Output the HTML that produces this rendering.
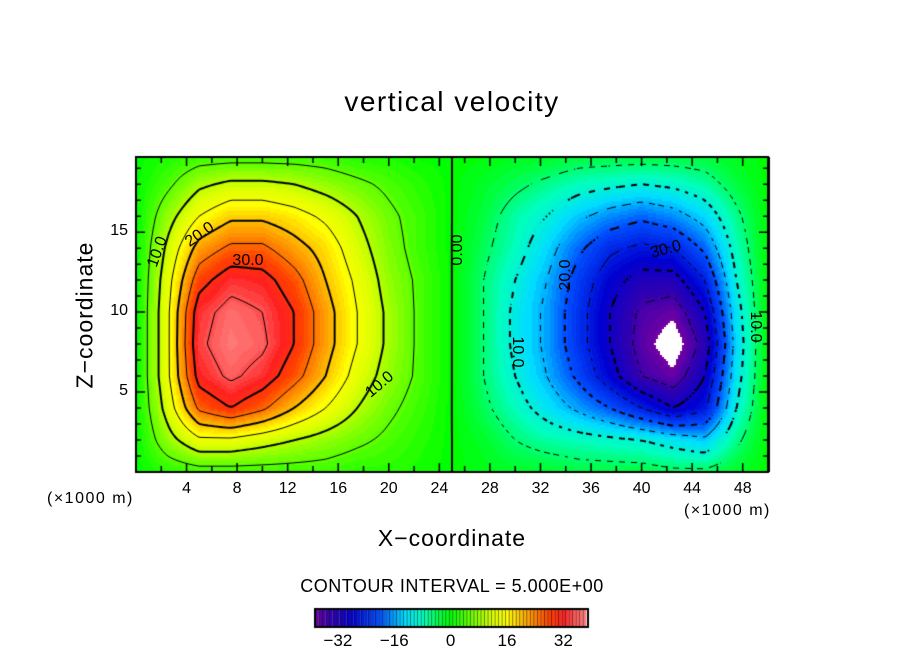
<!DOCTYPE html>
<html><head><meta charset="utf-8"><style>
html,body{margin:0;padding:0;background:#fff;width:904px;height:654px;overflow:hidden}
#root{position:relative;width:904px;height:654px;font-family:"Liberation Sans",sans-serif;color:#000}
.t{position:absolute;white-space:nowrap}
canvas{position:absolute;left:0;top:0}
</style></head><body>
<div id="root">
<canvas id="cv" width="904" height="654"></canvas>
<div class="t" style="left:0;width:904px;text-align:center;top:86px;font-size:28px;letter-spacing:1.5px">vertical velocity</div>
<div class="t" style="left:0;width:904px;text-align:center;top:525px;font-size:23px;letter-spacing:1px">X&minus;coordinate</div>
<div class="t" style="left:85px;top:315px;font-size:23px;letter-spacing:1px;transform:translate(-50%,-50%) rotate(-90deg)">Z&minus;coordinate</div>
<div class="t" style="left:47px;top:490px;font-size:16px;letter-spacing:1.5px">(×1000 m)</div>
<div class="t" style="left:684px;top:502px;font-size:16px;letter-spacing:1.5px">(×1000 m)</div>
<div class="t" style="left:0;width:904px;text-align:center;top:576px;font-size:18px;letter-spacing:0.5px">CONTOUR INTERVAL = 5.000E+00</div>
<div id="labels"></div>
</div>
<script>
const xCoords=[0,2.5,5,7.5,10,12.5,15,17.5,20,22.5,25,27.5,30,32.5,35,37.5,40,42.5,45,47.5,50];
const zCoords=[0,2,4,6,8,10,12,14,16,18,20];
const wRows=[
[0,2,3,3,3,3,3,2,2,1,0,-1,-2,-2,-3,-3,-3,-4,-4,-2,0],
[0,8,14,14,12,10,8,6,4,2,0,-2,-5,-7,-8,-9,-10,-12,-14,-6,0],
[0,12,26,30,26,20,15,10,6,3,0,-4,-8,-12,-16,-20,-25,-30,-26,-10,0],
[0,14,32,36,33,27,20,13,8,4,0,-5,-10,-15,-21,-28,-35,-38,-30,-12,0],
[0,14,34,38,36,30,22,15,9,4,0,-5,-11,-16,-23,-30,-37,-42,-33,-13,0],
[0,14,33,37,35,30,22,15,9,4,0,-5,-11,-16,-23,-30,-36,-38,-30,-12,0],
[0,13,28,33,32,27,20,14,8,4,0,-5,-10,-15,-22,-28,-32,-32,-25,-10,0],
[0,11,22,26,26,22,18,12,7,3,0,-4,-8,-13,-19,-24,-26,-25,-19,-8,0],
[0,8,15,19,19,17,14,10,6,3,0,-3,-7,-10,-14,-17,-19,-17,-13,-6,0],
[0,4,9,11,11,10,8,6,4,2,0,-2,-4,-6,-8,-9,-10,-9,-7,-3,0],
[0,1,2,2,2,2,2,1,1,0,0,0,-1,-1,-2,-2,-2,-2,-2,-1,0]];
const xTicks=[4,8,12,16,20,24,28,32,36,40,44,48];
const zTicks=[5,10,15];
const cbTicks=[-32,-16,0,16,32];
const levels=[-35,-30,-25,-20,-15,-10,-5,0,5,10,15,20,25,30,35];

const L=136,R=768,T=157,B=472,ZMAX=19.7;
const sx=x=>L+(x-0)/(50)*(R-L);
const sz=z=>B-(z/ZMAX)*(B-T);
const cv=document.getElementById('cv');const ctx=cv.getContext('2d');
function idx(arr,v){for(let i=0;i<arr.length-1;i++){if(v<=arr[i+1])return i;}return arr.length-2;}
function field(x,z){
  const i=idx(xCoords,x),j=idx(zCoords,z);
  const tx=(x-xCoords[i])/(xCoords[i+1]-xCoords[i]);
  const tz=(z-zCoords[j])/(zCoords[j+1]-zCoords[j]);
  const a=wRows[j][i],b=wRows[j][i+1],c=wRows[j+1][i],d=wRows[j+1][i+1];
  return a*(1-tx)*(1-tz)+b*tx*(1-tz)+c*(1-tx)*tz+d*tx*tz;
}
const stops=[[-40,[128,0,160]],[-34,[48,0,176]],[-28,[0,0,208]],[-20,[0,80,255]],[-13,[0,220,255]],[-8,[0,255,190]],[-3,[0,255,60]],[0,[0,255,0]],[6,[110,255,0]],[12,[220,255,0]],[16,[255,255,0]],[22,[255,160,0]],[28,[255,64,0]],[32,[255,32,32]],[36,[255,96,96]],[40,[255,144,144]]];
function col(v){
  if(v<-39)return 'rgb(255,255,255)';
  v=Math.round(v);
  if(v<=stops[0][0])return 'rgb('+stops[0][1]+')';
  for(let k=0;k<stops.length-1;k++){if(v<=stops[k+1][0]){const t=(v-stops[k][0])/(stops[k+1][0]-stops[k][0]);const a=stops[k][1],b=stops[k+1][1];return 'rgb('+a.map((q,n)=>Math.round(q+(b[n]-q)*t)).join(',')+')';}}
  return 'rgb('+stops[stops.length-1][1]+')';
}
const S=2;
for(let py=T;py<B;py+=S){for(let px=L;px<R;px+=S){
  const x=(px+S/2-L)/(R-L)*50,z=(B-(py+S/2))/(B-T)*ZMAX;
  ctx.fillStyle=col(field(x,z));ctx.fillRect(px,py,S,S);
}}
const C=3;const nx=Math.ceil((R-L)/C),ny=Math.ceil((B-T)/C);
const g=[];for(let j=0;j<=ny;j++){g[j]=[];for(let i=0;i<=nx;i++){const px=Math.min(L+i*C,R),py=Math.min(T+j*C,B);g[j][i]=field((px-L)/(R-L)*50,(B-py)/(B-T)*ZMAX);}}
levels.forEach(lv=>{
  ctx.strokeStyle='#000';ctx.lineWidth=(lv%10===0)?2:1;
  ctx.beginPath();
  for(let j=0;j<ny;j++)for(let i=0;i<nx;i++){
    if(lv<0&&(((i+j)>>1)%2===0))continue;
    const v=[g[j][i],g[j][i+1],g[j+1][i+1],g[j+1][i]];
    const p=[[L+i*C,T+j*C],[L+(i+1)*C,T+j*C],[L+(i+1)*C,T+(j+1)*C],[L+i*C,T+(j+1)*C]];
    const pts=[];
    for(let e=0;e<4;e++){const a=v[e],b=v[(e+1)%4];if((a<lv)!==(b<lv)){const t=(lv-a)/(b-a);const A=p[e],Bp=p[(e+1)%4];pts.push([A[0]+(Bp[0]-A[0])*t,A[1]+(Bp[1]-A[1])*t]);}}
    for(let k=0;k+1<pts.length;k+=2){ctx.moveTo(pts[k][0],pts[k][1]);ctx.lineTo(pts[k+1][0],pts[k+1][1]);}
  }
  ctx.stroke();
});
ctx.strokeStyle='#000';ctx.lineWidth=2;ctx.strokeRect(L,T,R-L,B-T);
ctx.lineWidth=1.5;ctx.beginPath();
for(let x=2;x<50;x+=2){const len=(x%4===0)?9:6;const X=sx(x);ctx.moveTo(X,B);ctx.lineTo(X,B-len);ctx.moveTo(X,T);ctx.lineTo(X,T+len);}
for(let z=1;z<ZMAX;z+=1){const len=(z%5===0)?9:5;const Y=sz(z);ctx.moveTo(L,Y);ctx.lineTo(L+len,Y);ctx.moveTo(R,Y);ctx.lineTo(R-len,Y);}
ctx.stroke();
const CL=315,CR=588,CT=609,CB=627,CMIN=-38.5,CMAX=39;
const cx=v=>CL+(v-CMIN)/(CMAX-CMIN)*(CR-CL);
for(let v=-38;v<=38;v++){ctx.fillStyle=col(Math.max(v,-38));const a=cx(v-0.5),b=cx(v+0.5);ctx.fillRect(a,CT,b-a,CB-CT);ctx.fillStyle='rgba(0,0,0,0.6)';ctx.fillRect(a,CT,0.8,CB-CT);}
ctx.lineWidth=2;ctx.strokeRect(CL,CT,CR-CL,CB-CT);
const lab=document.getElementById('labels');
xTicks.forEach(x=>{const d=document.createElement('div');d.className='t';


d.style.cssText='left:'+(sx(x)-20)+'px;width:40px;text-align:center;top:480px;font-size:16px';d.textContent=x;lab.appendChild(d);});
zTicks.forEach(z=>{const d=document.createElement('div');d.className='t';


d.style.cssText='left:90px;width:38px;text-align:right;top:'+(sz(z)-10)+'px;font-size:16px';d.textContent=z;lab.appendChild(d);});
cbTicks.forEach(v=>{const d=document.createElement('div');d.className='t';


d.style.cssText='left:'+(cx(v)-25)+'px;width:50px;text-align:center;top:631px;font-size:17px';d.textContent=(v<0?'\u2212'+(-v):v);lab.appendChild(d);});
const cl=[['10.0',158,252,-70],['20.0',200,235,-35],['30.0',248,261,0],['10.0',380,385,-40],['0.00',458,250,-90],['20.0',566,275,-90],['30.0',666,250,-15],['10.0',517,352,90],['10.0',755,327,90]];
cl.forEach(c=>{const d=document.createElement('div');d.className='t';


d.style.cssText='left:'+c[1]+'px;top:'+c[2]+'px;font-size:16px;transform:translate(-50%,-50%) rotate('+c[3]+'deg)';d.textContent=c[0];lab.appendChild(d);});
</script>
</body></html>
